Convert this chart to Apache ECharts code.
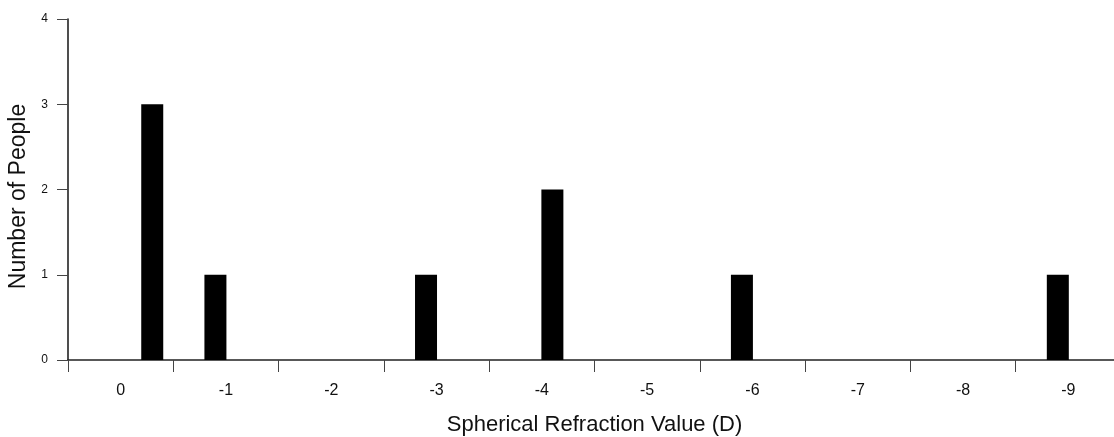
<!DOCTYPE html>
<html>
<head>
<meta charset="utf-8">
<script src="https://cdn.jsdelivr.net/npm/echarts@6/dist/echarts.min.js"></script>
<style>
html,body{margin:0;padding:0;background:#fff;}
#chart{width:1114px;height:437px;}
</style>
</head>
<body>
<div id="chart"></div>
<script>
// Category labels on the x axis (refraction bins, dioptres)
var categories = ['0', '-1', '-2', '-3', '-4', '-5', '-6', '-7', '-8', '-9'];
// Bar positions (spherical refraction value, D) and counts
var refractionValues = [-0.3, -0.9, -2.9, -4.1, -5.9, -8.9];
var peopleCounts = [3, 1, 1, 2, 1, 1];
// Y ticks
var yMin = 0, yMax = 4, yStep = 1;

var chart = echarts.init(document.getElementById('chart'), null, {renderer: 'canvas'});
var axisColor = '#222';
var font = 'Arial, "Liberation Sans", sans-serif';

var barData = refractionValues.map(function (v, i) { return [v, peopleCounts[i]]; });

chart.setOption({
  animation: false,
  backgroundColor: '#fff',
  grid: {left: 68, top: 19, width: 1053, height: 341, containLabel: false, outerBoundsMode: 'none'},
  xAxis: [
    {
      type: 'category',
      data: categories,
      boundaryGap: true,
      position: 'bottom',
      name: 'Spherical Refraction Value (D)',
      nameLocation: 'middle',
      nameGap: 54,
      nameTextStyle: {fontSize: 22, color: '#111', fontFamily: font},
      axisLine: {show: true, onZero: false, lineStyle: {color: axisColor, width: 1.6}},
      axisTick: {show: true, length: 12, inside: false, lineStyle: {color: '#444', width: 1}},
      axisLabel: {fontSize: 16, color: '#111', fontFamily: font, margin: 23},
      splitLine: {show: false}
    },
    {
      type: 'value',
      min: -9.5,
      max: 0.5,
      inverse: true,
      show: false
    }
  ],
  yAxis: {
    type: 'value',
    min: yMin,
    max: yMax,
    interval: yStep,
    name: 'Number of People',
    nameLocation: 'middle',
    nameGap: 38,
    nameTextStyle: {fontSize: 23, color: '#111', fontFamily: font, padding: [0, 14, 0, 0]},
    axisLine: {show: true, onZero: false, lineStyle: {color: axisColor, width: 1.6}},
    axisTick: {show: true, length: 11, inside: false, lineStyle: {color: '#444', width: 1}},
    axisLabel: {fontSize: 12, color: '#111', fontFamily: font, margin: 20},
    splitLine: {show: false}
  },
  series: [{
    type: 'bar',
    xAxisIndex: 1,
    yAxisIndex: 0,
    data: barData,
    barWidth: 22,
    itemStyle: {color: '#000'}
  }]
});
</script>
</body>
</html>
